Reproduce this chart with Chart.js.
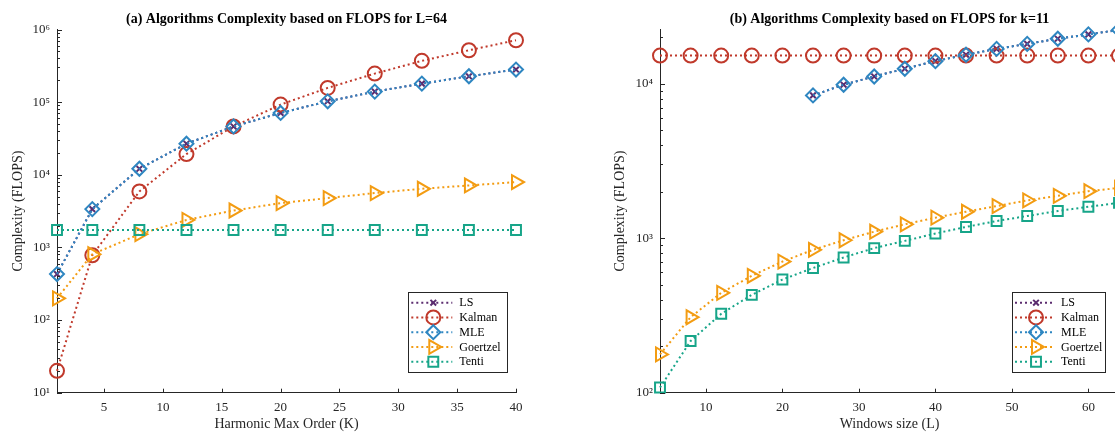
<!DOCTYPE html>
<html>
<head>
<meta charset="utf-8">
<title>Algorithms Complexity based on FLOPS</title>
<script src="https://cdn.jsdelivr.net/npm/chart.js@4.4.0/dist/chart.umd.min.js"></script>
<style>
    html, body { margin: 0; padding: 0; background: #fff; width: 1115px; height: 435px; overflow: hidden; }
    #wrapA { position: absolute; left: 0; top: 0; }
    #wrapB { position: absolute; left: 560px; top: 0; }
</style>
</head>
<body>
<div id="wrapA"><canvas id="chartA" width="560" height="435"></canvas></div>
<div id="wrapB"><canvas id="chartB" width="600" height="435"></canvas></div>
<script>
// (a) L = 64, x = harmonic max order K
const kValues = [1, 4, 8, 12, 16, 20, 24, 28, 32, 36, 40];
const lsA = [430, 3370, 12100, 26800, 46300, 71000, 102600, 139600, 180000, 227000, 281000];
const kalmanA = [20, 780, 5900, 19300, 46300, 92500, 157000, 247000, 370000, 518000, 711000];
const mleA = [430, 3370, 12100, 26800, 46300, 71000, 102600, 139600, 180000, 227000, 281000];
const goertzelA = [199, 805, 1520, 2390, 3220, 4070, 4780, 5600, 6420, 7130, 7940];
const tentiA = [1740, 1740, 1740, 1740, 1740, 1740, 1740, 1740, 1740, 1740, 1740];
const xTicksA = [5, 10, 15, 20, 25, 30, 35, 40];
const yMajorA = [1e1, 1e2, 1e3, 1e4, 1e5, 1e6];
const yLabelsA = ['10\u00b9', '10\u00b2', '10\u00b3', '10\u2074', '10\u2075', '10\u2076'];

// (b) k = 11, x = window size L
const lValues = [4, 8, 12, 16, 20, 24, 28, 32, 36, 40, 44, 48, 52, 56, 60, 64];
const lValuesMle = [24, 28, 32, 36, 40, 44, 48, 52, 56, 60, 64];
const lsB = [8400, 9850, 11140, 12500, 14000, 15400, 16800, 18100, 19550, 20850, 22300];
const kalmanB = [15200, 15200, 15200, 15200, 15200, 15200, 15200, 15200, 15200, 15200, 15200, 15200, 15200, 15200, 15200, 15200];
const mleB = [8400, 9850, 11140, 12500, 14000, 15400, 16800, 18100, 19550, 20850, 22300];
const goertzelB = [177, 308, 443, 571, 706, 841, 970, 1102, 1230, 1358, 1484, 1614, 1757, 1880, 2015, 2117];
const tentiB = [108, 216, 324, 430, 540, 641, 750, 863, 961, 1072, 1183, 1292, 1392, 1500, 1597, 1694];
const xTicksB = [10, 20, 30, 40, 50, 60];
const yMajorB = [1e2, 1e3, 1e4];
const yLabelsB = ['10\u00b2', '10\u00b3', '10\u2074'];

const axisColor = '#262626';
const serif = '"Liberation Serif", "Times New Roman", serif';

const styles = {
    LS:       { color: '#5B2C6F', pointStyle: 'crossRot', radius: 4, rotation: 0 },
    Kalman:   { color: '#C0392B', pointStyle: 'circle', radius: 7, rotation: 0 },
    MLE:      { color: '#2E86C1', pointStyle: 'rectRot', radius: 7, rotation: 0 },
    Goertzel: { color: '#F39C12', pointStyle: 'triangle', radius: 8, rotation: 90 },
    Tenti:    { color: '#17A589', pointStyle: 'rect', radius: 7, rotation: 0 }
};

function makeDataset(label, xs, ys, order) {
    const s = styles[label];
    return {
        label: label,
        data: xs.map((x, i) => ({ x: x, y: ys[i] })),
        borderColor: s.color,
        backgroundColor: 'rgba(0,0,0,0)',
        borderWidth: 2,
        borderDash: [2, 3],
        pointStyle: s.pointStyle,
        pointRadius: s.radius,
        pointRotation: s.rotation,
        pointBorderColor: s.color,
        pointBackgroundColor: 'rgba(0,0,0,0)',
        pointBorderWidth: 2,
        tension: 0,
        fill: false,
        clip: false,
        order: order
    };
}

// MATLAB-like inward tick marks
const inwardTicks = {
    id: 'inwardTicks',
    afterDraw(chart) {
        const ctx = chart.ctx, area = chart.chartArea;
        const xs = chart.scales.x, ys = chart.scales.y;
        ctx.save();
        ctx.strokeStyle = axisColor;
        ctx.lineWidth = 1;
        ctx.beginPath();
        ys.ticks.forEach(t => {
            const py = Math.round(ys.getPixelForValue(t.value)) + 0.5;
            const len = t.major ? 5 : 3;
            ctx.moveTo(area.left, py);
            ctx.lineTo(area.left + len, py);
        });
        xs.ticks.forEach(t => {
            const px = Math.round(xs.getPixelForValue(t.value)) + 0.5;
            ctx.moveTo(px, area.bottom);
            ctx.lineTo(px, area.bottom - 4);
        });
        ctx.stroke();
        ctx.restore();
    }
};

// title centred over the plot area
const panelTitle = {
    id: 'panelTitle',
    afterDraw(chart, args, opts) {
        const ctx = chart.ctx, area = chart.chartArea;
        ctx.save();
        ctx.font = 'bold 14px ' + serif;
        ctx.fillStyle = '#000';
        ctx.textAlign = 'center';
        ctx.textBaseline = 'middle';
        ctx.fillText(opts.text, (area.left + area.right) / 2, opts.y);
        ctx.restore();
    }
};

// boxed legend with dotted line + marker samples
const boxLegend = {
    id: 'boxLegend',
    afterDraw(chart, args, opts) {
        const ctx = chart.ctx, area = chart.chartArea;
        const left = area.right - opts.rightGap - opts.width;
        const top = area.bottom - opts.bottomGap - opts.height;
        ctx.save();
        ctx.fillStyle = '#fff';
        ctx.fillRect(left, top, opts.width, opts.height);
        ctx.strokeStyle = axisColor;
        ctx.lineWidth = 1;
        ctx.strokeRect(Math.round(left) + 0.5, Math.round(top) + 0.5, opts.width, opts.height);
        chart.data.datasets.forEach((ds, i) => {
            const y = top + 10.7 + i * 14.75;
            ctx.strokeStyle = ds.borderColor;
            ctx.lineWidth = 2;
            ctx.setLineDash([2, 3]);
            ctx.beginPath();
            ctx.moveTo(left + 3, y);
            ctx.lineTo(left + opts.markX + 19, y);
            ctx.stroke();
            ctx.setLineDash([]);
            ctx.fillStyle = 'rgba(0,0,0,0)';
            Chart.helpers.drawPoint(ctx, {
                pointStyle: ds.pointStyle,
                radius: ds.pointRadius,
                rotation: ds.pointRotation,
                borderWidth: 2
            }, left + opts.markX, y);
            ctx.fillStyle = '#000';
            ctx.font = '12px ' + serif;
            ctx.textAlign = 'left';
            ctx.textBaseline = 'middle';
            ctx.fillText(ds.label, left + opts.textX, y + 0.5);
        });
        ctx.restore();
    }
};

function logTicks(majors, min, max) {
    const out = [];
    majors.forEach(m => {
        for (let k = 1; k < 10; k++) {
            const v = m * k;
            if (v >= min && v <= max) out.push({ value: v, major: k === 1 });
        }
    });
    return out;
}

function buildOptions(cfg) {
    return {
        responsive: false,
        animation: false,
        events: [],
        layout: { padding: cfg.padding },
        plugins: {
            legend: { display: false },
            tooltip: { enabled: false },
            title: { display: false },
            panelTitle: { text: cfg.title, y: 19.5 },
            boxLegend: cfg.legend
        },
        scales: {
            x: {
                type: 'linear',
                min: cfg.xMin,
                max: cfg.xMax,
                grid: { display: false, drawTicks: false },
                border: { display: true, color: axisColor, width: 1 },
                afterBuildTicks: function(scale) {
                    scale.ticks = cfg.xTicks.map(v => ({ value: v }));
                },
                afterFit: function(scale) { scale.height = 42.3; },
                ticks: {
                    autoSkip: false,
                    maxRotation: 0,
                    padding: 7,
                    color: axisColor,
                    font: { family: serif, size: 13 }
                },
                title: {
                    display: true,
                    text: cfg.xTitle,
                    color: axisColor,
                    font: { family: serif, size: 14 },
                    padding: { top: 0, bottom: 2 }
                }
            },
            y: {
                type: 'logarithmic',
                min: cfg.yMin,
                max: cfg.yMax,
                grid: { display: false, drawTicks: false },
                border: { display: true, color: axisColor, width: 1 },
                afterBuildTicks: function(scale) {
                    scale.ticks = logTicks(cfg.yMajor, cfg.yMin, cfg.yMax);
                },
                afterFit: function(scale) { scale.width = cfg.yWidth; },
                ticks: {
                    autoSkip: false,
                    padding: 7,
                    color: axisColor,
                    font: { family: serif, size: 13 },
                    callback: function(value) {
                        const idx = cfg.yMajor.indexOf(value);
                        return idx >= 0 ? cfg.yLabels[idx] : '';
                    }
                },
                title: {
                    display: true,
                    text: 'Complexity (FLOPS)',
                    color: axisColor,
                    font: { family: serif, size: 14 },
                    padding: { top: cfg.yTitlePad, bottom: 0 }
                }
            }
        }
    };
}

new Chart(document.getElementById('chartA'), {
    type: 'line',
    data: {
        datasets: [
            makeDataset('LS', kValues, lsA, 5),
            makeDataset('Kalman', kValues, kalmanA, 4),
            makeDataset('MLE', kValues, mleA, 3),
            makeDataset('Goertzel', kValues, goertzelA, 2),
            makeDataset('Tenti', kValues, tentiA, 1)
        ]
    },
    options: buildOptions({
        title: '(a) Algorithms Complexity based on FLOPS for L=64',
        padding: { left: 0, right: 44, top: 29.5, bottom: 0 },
        xMin: 1, xMax: 40, xTicks: xTicksA, xTitle: 'Harmonic Max Order (K)',
        yMin: 10, yMax: 1e6, yMajor: yMajorA, yLabels: yLabelsA,
        yWidth: 57, yTitlePad: 10,
        legend: { width: 99, height: 80, rightGap: 8.7, bottomGap: 20.7, markX: 25, textX: 51 }
    }),
    plugins: [inwardTicks, panelTitle, boxLegend]
});

new Chart(document.getElementById('chartB'), {
    type: 'line',
    data: {
        datasets: [
            makeDataset('LS', lValuesMle, lsB, 5),
            makeDataset('Kalman', lValues, kalmanB, 4),
            makeDataset('MLE', lValuesMle, mleB, 3),
            makeDataset('Goertzel', lValues, goertzelB, 2),
            makeDataset('Tenti', lValues, tentiB, 1)
        ]
    },
    options: buildOptions({
        title: '(b) Algorithms Complexity based on FLOPS for k=11',
        padding: { left: 40, right: 41, top: 29.3, bottom: 0 },
        xMin: 4, xMax: 64, xTicks: xTicksB, xTitle: 'Windows size (L)',
        yMin: 100, yMax: 22500, yMajor: yMajorB, yLabels: yLabelsB,
        yWidth: 60, yTitlePad: 12,
        legend: { width: 93, height: 80, rightGap: 14, bottomGap: 20.7, markX: 24, textX: 49 }
    }),
    plugins: [inwardTicks, panelTitle, boxLegend]
});
</script>
</body>
</html>
